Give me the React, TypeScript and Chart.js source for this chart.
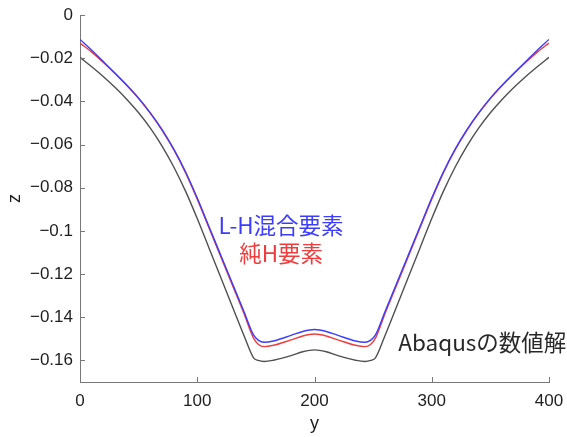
import React, { useEffect, useRef } from "react";
import { Chart, registerables } from "chart.js";
Chart.register(...registerables);

// y position along the section
const yPos = [
  0, 10, 20, 30, 40, 50, 60, 70, 80, 90, 100, 110, 120, 130, 140, 148, 152, 157, 165, 180, 190,
  200,
  210, 220, 235, 243, 248, 252, 260, 270, 280, 290, 300, 310, 320, 330, 340, 350, 360, 370, 380, 390, 400,
];

// L-H mixed element (blue)
const zLH = [
  -0.0113, -0.0163, -0.0216, -0.027, -0.0325, -0.0385, -0.0453, -0.0531, -0.0621, -0.0726, -0.0848,
  -0.098, -0.1112, -0.1244, -0.1376, -0.1482, -0.1506, -0.1516, -0.151, -0.1484, -0.1466,
  -0.1457,
  -0.1466, -0.1484, -0.151, -0.1516, -0.1506, -0.1482, -0.1376, -0.1244, -0.1112, -0.098,
  -0.0848, -0.0726, -0.0621, -0.0531, -0.0453, -0.0385, -0.0325, -0.027, -0.0216, -0.0163, -0.0113,
];

// pure H element (red)
const zH = [
  -0.013, -0.0172, -0.022, -0.0272, -0.0327, -0.0387, -0.0456, -0.0534, -0.0624, -0.073, -0.0853,
  -0.0986, -0.1119, -0.1252, -0.1385, -0.1497, -0.1525, -0.1536, -0.153, -0.1505, -0.1487,
  -0.1478,
  -0.1487, -0.1505, -0.153, -0.1536, -0.1525, -0.1497, -0.1385, -0.1252, -0.1119, -0.0986,
  -0.0853, -0.073, -0.0624, -0.0534, -0.0456, -0.0387, -0.0327, -0.0272, -0.022, -0.0172, -0.013,
];

// Abaqus numerical solution (black)
const zAbaqus = [
  -0.0196, -0.024, -0.0286, -0.0336, -0.0391, -0.0453, -0.0524, -0.0607, -0.0704, -0.0816, -0.0943,
  -0.1079, -0.1215, -0.1351, -0.1487, -0.1588, -0.16, -0.1605, -0.1599, -0.1578, -0.156,
  -0.1551,
  -0.156, -0.1578, -0.1599, -0.1605, -0.16, -0.1588, -0.1487, -0.1351, -0.1215, -0.1079,
  -0.0943, -0.0816, -0.0704, -0.0607, -0.0524, -0.0453, -0.0391, -0.0336, -0.0286, -0.024, -0.0196,
];

const xTicks = [0, 100, 200, 300, 400];
const yTicks = [0, -0.02, -0.04, -0.06, -0.08, -0.1, -0.12, -0.14, -0.16];

const labelLH = "L-H混合要素";
const labelH = "純H要素";
const labelAbaqus = "Abaqusの数値解";

const BLUE = "rgb(60,60,255)";
const RED = "rgb(240,60,60)";
const BLACK = "rgb(80,80,80)";
const AXIS = "rgb(120,120,120)";

const fmt = (v: number) => {
  const s = String(Number(v.toFixed(2)));
  return s.replace("-", "\u2212");
};

const notes = [
  { text: labelLH, x: 171.5, z: -0.0975, color: BLUE, align: "center" as CanvasTextAlign },
  { text: labelH, x: 171.5, z: -0.1105, color: RED, align: "center" as CanvasTextAlign },
  { text: labelAbaqus, x: 271.5, z: -0.1519, color: "rgb(40,40,40)", align: "left" as CanvasTextAlign },
];

const decoPlugin = {
  id: "deco",
  afterDatasetsDraw(chart: any) {
    const { ctx, chartArea, scales } = chart;
    const xs = scales.x;
    const ys = scales.y;
    ctx.save();
    ctx.strokeStyle = AXIS;
    ctx.lineWidth = 1;
    ctx.beginPath();
    for (const t of xTicks) {
      const px = Math.round(xs.getPixelForValue(t)) + 0.5;
      ctx.moveTo(px, chartArea.bottom);
      ctx.lineTo(px, chartArea.bottom - 5);
    }
    for (const t of yTicks) {
      const py = Math.round(ys.getPixelForValue(t)) + 0.5;
      ctx.moveTo(chartArea.left, py);
      ctx.lineTo(chartArea.left + 5, py);
    }
    ctx.stroke();
    ctx.font = '22.5px "Noto Sans CJK JP", sans-serif';
    ctx.textBaseline = "middle";
    for (const n of notes) {
      ctx.fillStyle = n.color;
      ctx.textAlign = n.align;
      ctx.fillText(n.text, xs.getPixelForValue(n.x), ys.getPixelForValue(n.z));
    }
    ctx.restore();
  },
};

export default function App() {
  const ref = useRef<HTMLCanvasElement | null>(null);
  useEffect(() => {
    if (!ref.current) return;
    const mk = (vals: number[]) => yPos.map((x, i) => ({ x, y: vals[i] }));
    const common = { borderWidth: 1.4, pointRadius: 0, cubicInterpolationMode: "monotone" as const, fill: false };
    const chart = new Chart(ref.current, {
      type: "line",
      data: {
        datasets: [
          { data: mk(zLH), borderColor: BLUE, ...common },
          { data: mk(zH), borderColor: RED, ...common },
          { data: mk(zAbaqus), borderColor: BLACK, ...common },
        ],
      },
      options: {
        responsive: false,
        maintainAspectRatio: false,
        animation: false,
        layout: { padding: { top: 15, right: 18, left: 0, bottom: 0 } },
        plugins: { legend: { display: false }, tooltip: { enabled: false } },
        scales: {
          x: {
            type: "linear",
            min: 0,
            max: 400,
            afterBuildTicks: (s: any) => {
              s.ticks = xTicks.map((v) => ({ value: v }));
            },
            afterFit: (s: any) => {
              s.height = 55;
              s.paddingRight = 0;
              s.paddingLeft = 0;
            },
            grid: { display: false, drawTicks: false },
            border: { display: true, color: AXIS, width: 1 },
            ticks: {
              color: "rgb(30,30,30)",
              font: { family: '"Liberation Sans", Arial, sans-serif', size: 17 },
              padding: 9,
              maxRotation: 0,
              callback: (v: any) => fmt(Number(v)),
            },
            title: {
              display: true,
              text: "y",
              color: "rgb(30,30,30)",
              font: { family: '"Liberation Sans", Arial, sans-serif', size: 18 },
              padding: { top: 0, bottom: 2 },
            },
          },
          y: {
            type: "linear",
            min: -0.17,
            max: 0,
            afterBuildTicks: (s: any) => {
              s.ticks = yTicks.map((v) => ({ value: v }));
            },
            afterFit: (s: any) => {
              s.width = 80;
              s.paddingTop = 0;
              s.paddingBottom = 0;
            },
            grid: { display: false, drawTicks: false },
            border: { display: true, color: AXIS, width: 1 },
            ticks: {
              color: "rgb(30,30,30)",
              font: { family: '"Liberation Sans", Arial, sans-serif', size: 17 },
              padding: 7,
              callback: (v: any) => fmt(Number(v)),
            },
            title: {
              display: true,
              text: "z",
              color: "rgb(30,30,30)",
              font: { family: '"Liberation Sans", Arial, sans-serif', size: 18 },
              padding: { top: 4, bottom: 0 },
            },
          },
        },
      },
      plugins: [decoPlugin],
    });
    return () => chart.destroy();
  }, []);
  return (
    <div style={{ position: "fixed", left: 0, top: 0, width: 567, height: 437, background: "#fff" }}>
      <canvas ref={ref} width={567} height={437} style={{ width: 567, height: 437, display: "block" }} />
    </div>
  );
}
